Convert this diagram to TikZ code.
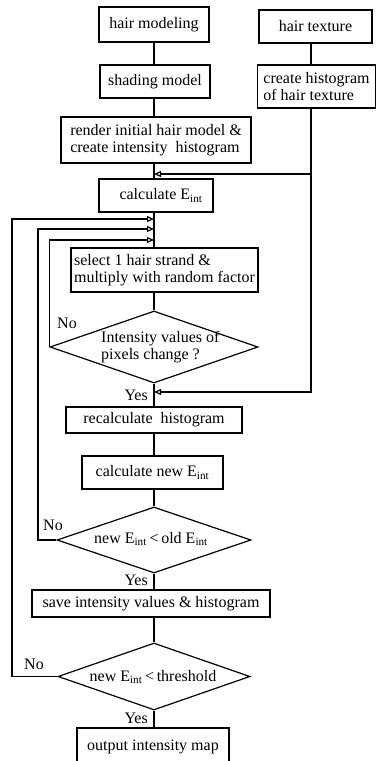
\documentclass[tikz,border=0pt]{standalone}
\usepackage{fontspec}
\setmainfont{Liberation Serif}
\usetikzlibrary{shapes.geometric,arrows.meta}
\newcommand{\Eint}{E\textsubscript{int}}
\begin{document}
\begin{tikzpicture}[x=1pt,y=-1pt,
  box/.style={draw,line width=1.2pt,inner sep=0pt,font=\fontsize{16}{17}\selectfont,align=center},
  dia/.style={draw,diamond,line width=1.2pt,inner sep=0pt},
  txt/.style={inner sep=0pt,font=\fontsize{16}{17}\selectfont,align=center},
  conn/.style={line width=1.2pt},
  arr/.style={conn,-{Triangle[open,length=7pt,width=6pt]}}]
\useasboundingbox (0,0) rectangle (377,761);
\clip (0,0) rectangle (377,761);
\coordinate (ax) at (154,0);
\coordinate (rx) at (311,0);
% nodes
\node[box,minimum width=110pt,minimum height=35pt] (hm) at (154,24.5) {hair modeling};
\node[box,minimum width=113pt,minimum height=33pt] (ht) at (315.5,26.5) {hair texture};
\node[box,minimum width=110pt,minimum height=33pt] (sm) at (155,81.5) {shading model};
\node[box,minimum width=118pt,minimum height=43pt,align=left] (ch) at (316.5,86.5) {create histogram\\of hair texture};
\node[box,minimum width=190pt,minimum height=46pt,align=left] (ri) at (156,140) {render initial hair model \&\\create intensity\ \ histogram};
\node[box,minimum width=114pt,minimum height=33pt] (ce) at (156,195.5) {\hspace*{10pt}calculate \Eint};
\node[box,minimum width=187pt,minimum height=44pt,align=left] (sel) at (164.5,270) {select 1 hair strand \&\\multiply with random factor};
\node[dia,minimum width=208pt,minimum height=72pt] (d1) at (154,347) {};
\node[txt,align=left,anchor=west] (d1t) at (101,347) {Intensity values of\\pixels change ?};
\node[box,minimum width=176pt,minimum height=26pt] (rh) at (154,420) {recalculate\ \ histogram};
\node[box,minimum width=141pt,minimum height=33pt] (cn) at (152.5,472.5) {calculate new \Eint};
\node[dia,minimum width=194pt,minimum height=66pt] (d2) at (154,540) {};
\node[txt] (d2t) at (151,539) {new \Eint\,<\,old \Eint};
\node[box,minimum width=238pt,minimum height=27pt] (sv) at (151,603.5) {save intensity values \& histogram};
\node[dia,minimum width=192pt,minimum height=67pt] (d3) at (154,676.5) {};
\node[txt] (d3t) at (153,677) {new \Eint\,<\,threshold};
\node[box,minimum width=152pt,minimum height=38pt] (out) at (153,747) {output intensity map};
% labels
\node[txt] (no1) at (67,323) {No};
\node[txt] (no2) at (53,525) {No};
\node[txt] (no3) at (34,664) {No};
\node[txt,anchor=east] (yes1) at (148,395) {Yes};
\node[txt,anchor=east] (yes2) at (148,580) {Yes};
\node[txt,anchor=east] (yes3) at (148,718) {Yes};
% main connectors
\draw[conn] (hm.south -| ax) -- (sm.north -| ax);
\draw[conn] (ht.south -| rx) -- (ch.north -| rx);
\draw[conn] (sm.south -| ax) -- (ri.north -| ax);
\draw[conn] (ri.south -| ax) -- (ce.north -| ax);
\draw[conn] (ce.south -| ax) -- (sel.north -| ax);
\draw[conn] (sel.south -| ax) -- (d1.north);
\draw[conn] (d1.south) -- (rh.north -| ax);
\draw[conn] (rh.south -| ax) -- (cn.north -| ax);
\draw[conn] (cn.south -| ax) -- (d2.north);
\draw[conn] (d2.south) -- (sv.north -| ax);
\draw[conn] (sv.south -| ax) -- (d3.north);
\draw[conn] (d3.south) -- (out.north -| ax);
% right branch
\coordinate (yb) at (0,174);
\coordinate (yy) at (0,392);
\draw[arr] (ch.south -| rx) |- (yy -| ax);
\draw[arr] (yb -| rx) -- (yb -| ax);
% loops
\coordinate (c3) at (0,240);
\coordinate (c2) at (38,229);
\coordinate (c1) at (12,219);
\draw[arr] (d1.west) |- (c3 -| ax);
\draw[arr] (d2.west) -| (c2) -- (c2 -| ax);
\draw[arr] (d3.west) -| (c1) -- (c1 -| ax);
\end{tikzpicture}
\end{document}
